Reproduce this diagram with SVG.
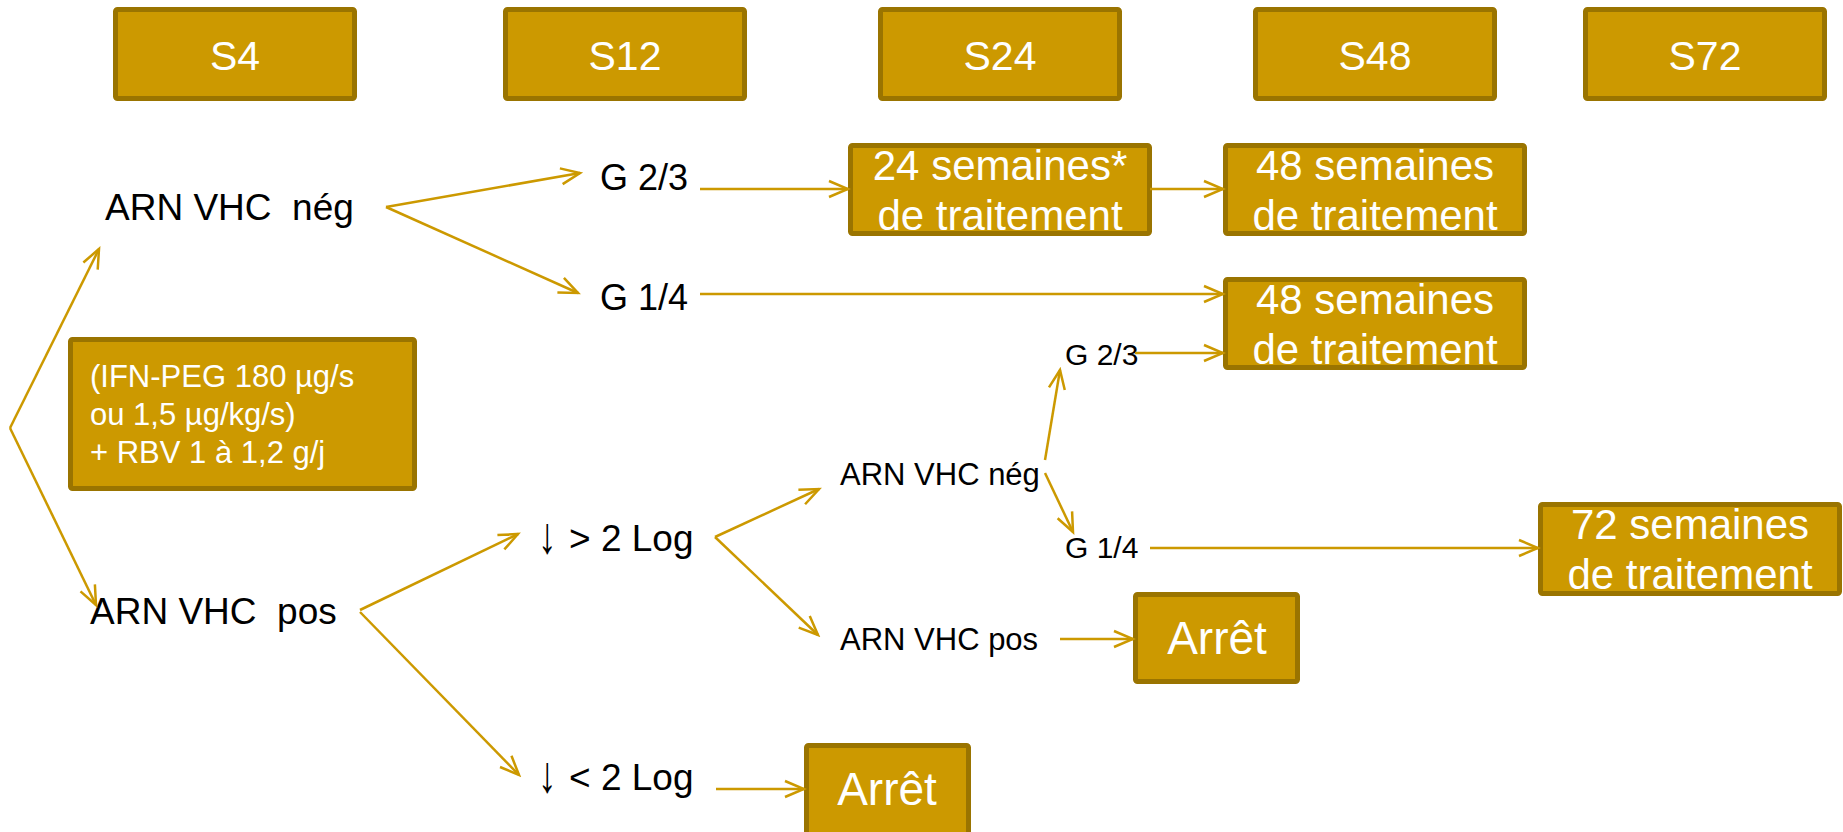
<svg xmlns="http://www.w3.org/2000/svg" width="1843" height="832" viewBox="0 0 1843 832">
<defs>
<style>
.box{fill:#cc9900;stroke:#9a7400;stroke-width:5}
.bt{fill:#ffffff;font-family:"Liberation Sans",Arial,sans-serif;text-anchor:middle}
.t{fill:#000000;font-family:"Liberation Sans",Arial,sans-serif}
.c{fill:none;stroke:#cc9900;stroke-width:2.5;marker-end:url(#ah)}
</style>
<marker id="ah" markerUnits="userSpaceOnUse" markerWidth="24" markerHeight="20" viewBox="0 0 24 20" refX="21" refY="10" orient="auto">
<path d="M2,2 L21,10 L2,18" fill="none" stroke="#cc9900" stroke-width="2.5"/>
</marker>
</defs>
<rect width="1843" height="832" fill="#ffffff"/>

<g id="S4"><rect class="box" x="115.5" y="9.5" width="239" height="89" rx="2"/><text class="bt" x="235" y="70" font-size="41">S4</text></g>
<g id="S12"><rect class="box" x="505.5" y="9.5" width="239" height="89" rx="2"/><text class="bt" x="625" y="70" font-size="41">S12</text></g>
<g id="S24"><rect class="box" x="880.5" y="9.5" width="239" height="89" rx="2"/><text class="bt" x="1000" y="70" font-size="41">S24</text></g>
<g id="S48"><rect class="box" x="1255.5" y="9.5" width="239" height="89" rx="2"/><text class="bt" x="1375" y="70" font-size="41">S48</text></g>
<g id="S72"><rect class="box" x="1585.5" y="9.5" width="239" height="89" rx="2"/><text class="bt" x="1705" y="70" font-size="41">S72</text></g>

<g id="traitement"><rect class="box" x="70.5" y="339.5" width="344" height="149" rx="2"/>
<text class="bt" style="text-anchor:start" font-size="31"><tspan x="90" y="387">(IFN-PEG 180 µg/s</tspan><tspan x="90" y="425">ou 1,5 µg/kg/s)</tspan><tspan x="90" y="463">+ RBV 1 à 1,2 g/j</tspan></text></g>

<g id="arn-neg"><text class="t" x="105" y="220" font-size="37" xml:space="preserve">ARN VHC  nég</text></g>
<g id="arn-pos"><text class="t" x="90" y="624" font-size="37" xml:space="preserve">ARN VHC  pos</text></g>
<g id="g23"><text class="t" x="600" y="190" font-size="36">G 2/3</text></g>
<g id="g14"><text class="t" x="600" y="310" font-size="36">G 1/4</text></g>
<g id="sup2log"><text class="t" font-size="37" transform="translate(538,553) scale(1,1.4)">↓</text><text class="t" x="569" y="551" font-size="37">&gt; 2 Log</text></g>
<g id="inf2log"><text class="t" font-size="37" transform="translate(538,792) scale(1,1.4)">↓</text><text class="t" x="569" y="790" font-size="37">&lt; 2 Log</text></g>
<g id="arn-neg2"><text class="t" x="840" y="485" font-size="31">ARN VHC nég</text></g>
<g id="arn-pos2"><text class="t" x="840" y="650" font-size="31">ARN VHC pos</text></g>
<g id="g23b"><text class="t" x="1065" y="365" font-size="30">G 2/3</text></g>
<g id="g14b"><text class="t" x="1065" y="558" font-size="30">G 1/4</text></g>

<g id="sem24"><rect class="box" x="850.5" y="145.5" width="299" height="88" rx="2"/><text class="bt" font-size="42"><tspan x="1000" y="180">24 semaines*</tspan><tspan x="1000" y="230">de traitement</tspan></text></g>
<g id="sem48a"><rect class="box" x="1225.5" y="145.5" width="299" height="88" rx="2"/><text class="bt" font-size="42"><tspan x="1375" y="180">48 semaines</tspan><tspan x="1375" y="230">de traitement</tspan></text></g>
<g id="sem48b"><rect class="box" x="1225.5" y="279.5" width="299" height="88" rx="2"/><text class="bt" font-size="42"><tspan x="1375" y="314">48 semaines</tspan><tspan x="1375" y="364">de traitement</tspan></text></g>
<g id="sem72"><rect class="box" x="1540.5" y="504.5" width="299" height="89" rx="2"/><text class="bt" font-size="42"><tspan x="1690" y="539">72 semaines</tspan><tspan x="1690" y="589">de traitement</tspan></text></g>
<g id="arret1"><rect class="box" x="1135.5" y="594.5" width="162" height="87" rx="2"/><text class="bt" x="1217" y="654" font-size="46">Arrêt</text></g>
<g id="arret2"><rect class="box" x="806.5" y="745.5" width="162" height="98" rx="2"/><text class="bt" x="887" y="805" font-size="46">Arrêt</text></g>

<g id="connectors">
<path class="c" d="M10,428 L99,249"/>
<path class="c" d="M10,428 L96,605"/>
<path class="c" d="M386,207 L580,173"/>
<path class="c" d="M386,207 L578,293"/>
<path class="c" d="M700,189 L848,189"/>
<path class="c" d="M1150,189 L1223,189"/>
<path class="c" d="M700,294 L1223,294"/>
<path class="c" d="M360,610 L518,534"/>
<path class="c" d="M360,612 L519,775"/>
<path class="c" d="M715,537 L819,489"/>
<path class="c" d="M715,537 L818,635"/>
<path class="c" d="M1045,460 L1060,370"/>
<path class="c" d="M1045,473 L1073,532"/>
<path class="c" d="M1135,353 L1223,353"/>
<path class="c" d="M1150,548 L1538,548"/>
<path class="c" d="M1060,639 L1133,639"/>
<path class="c" d="M716,789 L804,789"/>
</g>
</svg>
